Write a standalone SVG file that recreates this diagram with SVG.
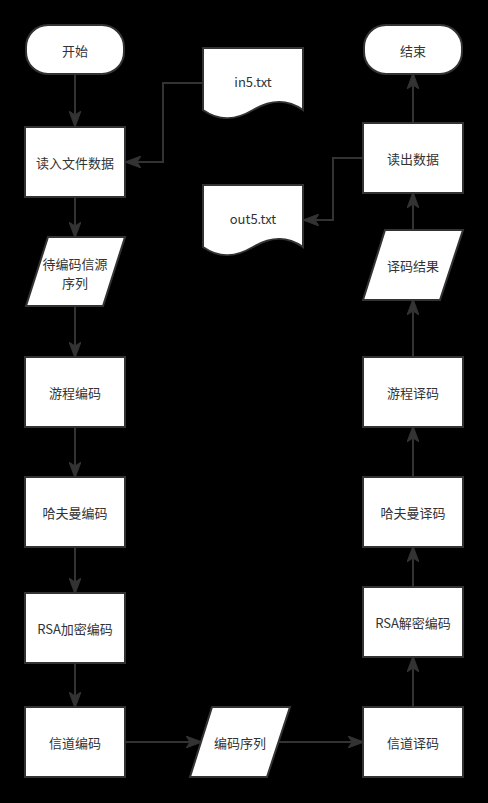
<svg xmlns="http://www.w3.org/2000/svg" width="488" height="803" viewBox="0 0 488 803">
<defs>
<style>
.n{fill:#ffffff;stroke:#333333;stroke-width:2}
.t{font-family:"Noto Sans CJK SC","Liberation Sans",sans-serif;font-size:13px;fill:#333333;text-anchor:middle;dominant-baseline:central}
.e{fill:none;stroke:#333333;stroke-width:2}
</style>
<marker id="ar" viewBox="0 0 16 12" refX="15" refY="6" markerWidth="16" markerHeight="12" markerUnits="userSpaceOnUse" orient="auto">
<path d="M0,0 L16,6 L0,12 L4,6 Z" fill="#333333" stroke="#333333" stroke-width="1"/>
</marker>
</defs>
<rect width="488" height="803" fill="#000000"/>
<g id="connectors">
<path class="e" d="M75,74 V126" marker-end="url(#ar)"/>
<path class="e" d="M203,83 H163 V162 H126" marker-end="url(#ar)"/>
<path class="e" d="M75,197 V237" marker-end="url(#ar)"/>
<path class="e" d="M75,306 V357" marker-end="url(#ar)"/>
<path class="e" d="M75,427 V477" marker-end="url(#ar)"/>
<path class="e" d="M75,547 V593" marker-end="url(#ar)"/>
<path class="e" d="M75,663 V707" marker-end="url(#ar)"/>
<path class="e" d="M125,742 H201" marker-end="url(#ar)"/>
<path class="e" d="M279,742 H363" marker-end="url(#ar)"/>
<path class="e" d="M413,707 V657" marker-end="url(#ar)"/>
<path class="e" d="M413,587 V547" marker-end="url(#ar)"/>
<path class="e" d="M413,477 V427" marker-end="url(#ar)"/>
<path class="e" d="M413,357 V300" marker-end="url(#ar)"/>
<path class="e" d="M413,230 V193" marker-end="url(#ar)"/>
<path class="e" d="M413,123 V74" marker-end="url(#ar)"/>
<path class="e" d="M363,158 H333 V220 H304" marker-end="url(#ar)"/>
</g>
<g id="start"><rect class="n" x="26" y="25" width="98" height="49" rx="22"/><text class="t" x="75" y="50">开始</text></g>
<g id="end"><rect class="n" x="364" y="25" width="98" height="49" rx="22"/><text class="t" x="413" y="50">结束</text></g>
<g id="readin"><rect class="n" x="25" y="127" width="100" height="70"/><text class="t" x="75" y="162">读入文件数据</text></g>
<g id="src"><path class="n" d="M48,237 H125 L103,306 H26 Z"/><text class="t" x="75" y="263">待编码信源</text><text class="t" x="75" y="282">序列</text></g>
<g id="rle"><rect class="n" x="25" y="357" width="100" height="70"/><text class="t" x="75" y="392">游程编码</text></g>
<g id="huff"><rect class="n" x="25" y="477" width="100" height="70"/><text class="t" x="75" y="512">哈夫曼编码</text></g>
<g id="rsa"><rect class="n" x="25" y="593" width="100" height="70"/><text class="t" x="75" y="628">RSA加密编码</text></g>
<g id="chenc"><rect class="n" x="25" y="707" width="100" height="70"/><text class="t" x="75" y="742">信道编码</text></g>
<g id="seq"><path class="n" d="M212,707 H290 L267,777 H190 Z"/><text class="t" x="240" y="742">编码序列</text></g>
<g id="chdec"><rect class="n" x="363" y="707" width="100" height="70"/><text class="t" x="413" y="742">信道译码</text></g>
<g id="rsad"><rect class="n" x="363" y="587" width="100" height="70"/><text class="t" x="413" y="622">RSA解密编码</text></g>
<g id="huffd"><rect class="n" x="363" y="477" width="100" height="70"/><text class="t" x="413" y="512">哈夫曼译码</text></g>
<g id="rled"><rect class="n" x="363" y="357" width="100" height="70"/><text class="t" x="413" y="392">游程译码</text></g>
<g id="res"><path class="n" d="M385,230 H463 L440,300 H363 Z"/><text class="t" x="413" y="265">译码结果</text></g>
<g id="readout"><rect class="n" x="363" y="123" width="100" height="70"/><text class="t" x="413" y="158">读出数据</text></g>
<g id="in5"><path class="n" d="M203,48 H303 V110 C286,98 270,100 253,110 C236,120 220,122 203,110 Z"/><text class="t" x="253" y="81">in5.txt</text></g>
<g id="out5"><path class="n" d="M203,185 H303 V247 C286,235 270,237 253,247 C236,257 220,259 203,247 Z"/><text class="t" x="253" y="218">out5.txt</text></g>
</svg>
